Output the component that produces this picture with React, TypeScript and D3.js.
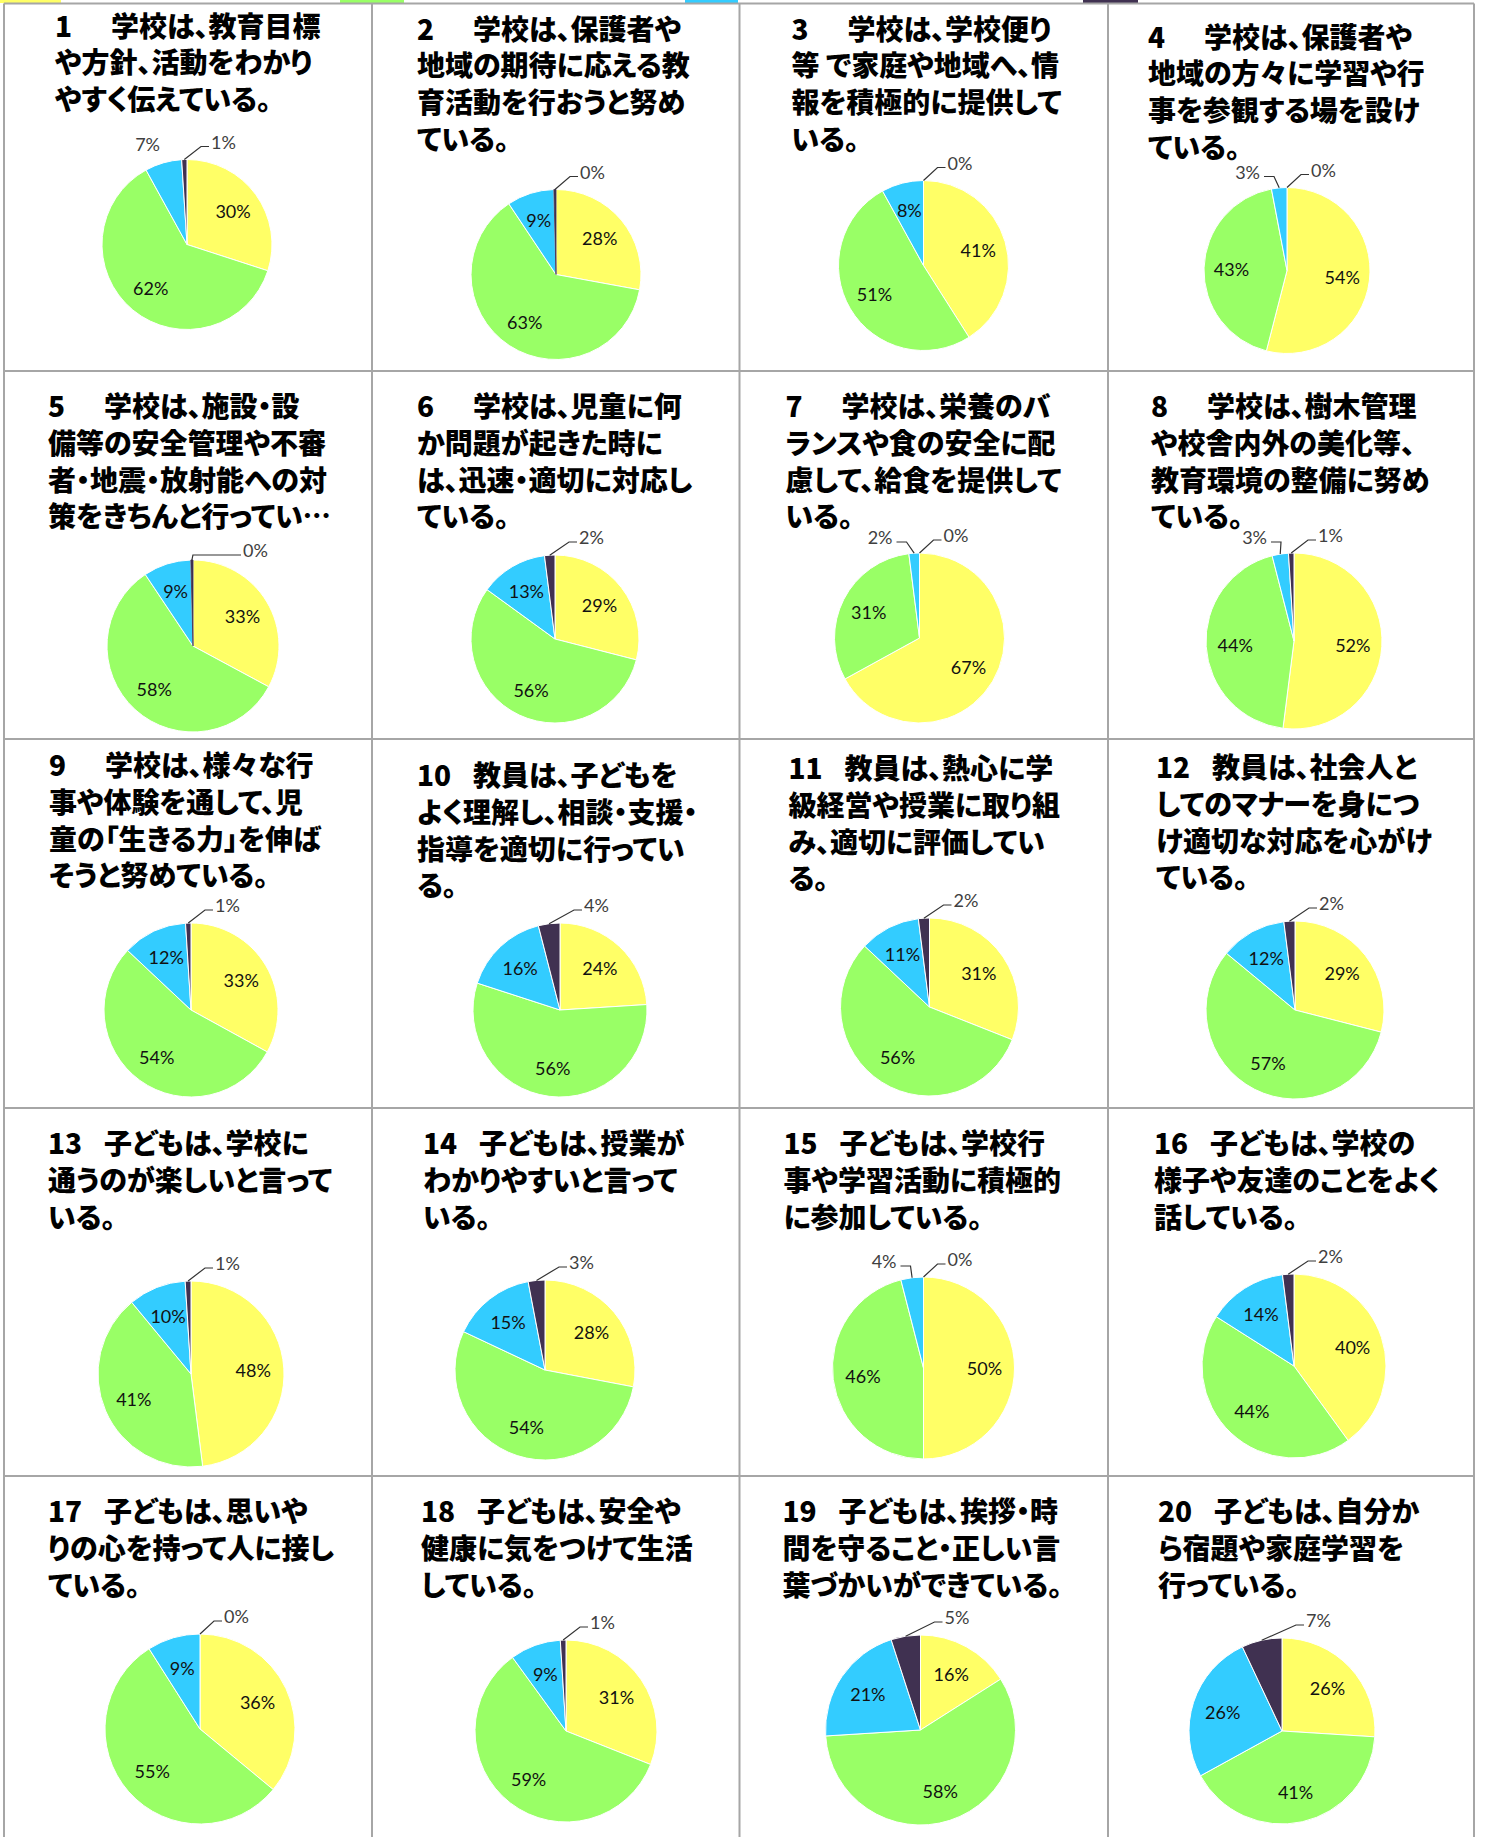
import React from 'react';
import * as d3 from 'd3';

const W = 1491;
const H = 1837;

// ---- data ----
const questionNumbers = [1, 2, 3, 4, 5, 6, 7, 8, 9, 10, 11, 12, 13, 14, 15, 16, 17, 18, 19, 20];

const titleLines: string[][] = [
  ['学校は、教育目標', 'や方針、活動をわかり', 'やすく伝えている。'],
  ['学校は、保護者や', '地域の期待に応える教', '育活動を行おうと努め', 'ている。'],
  ['学校は、学校便り', '等 で家庭や地域へ、情', '報を積極的に提供して', 'いる。'],
  ['学校は、保護者や', '地域の方々に学習や行', '事を参観する場を設け', 'ている。'],
  ['学校は、施設・設', '備等の安全管理や不審', '者・地震・放射能への対', '策をきちんと行ってい…'],
  ['学校は、児童に何', 'か問題が起きた時に', 'は、迅速・適切に対応し', 'ている。'],
  ['学校は、栄養のバ', 'ランスや食の安全に配', '慮して、給食を提供して', 'いる。'],
  ['学校は、樹木管理', 'や校舎内外の美化等、', '教育環境の整備に努め', 'ている。'],
  ['学校は、様々な行', '事や体験を通して、児', '童の「生きる力」を伸ば', 'そうと努めている。'],
  ['教員は、子どもを', 'よく理解し、相談・支援・', '指導を適切に行ってい', 'る。'],
  ['教員は、熱心に学', '級経営や授業に取り組', 'み、適切に評価してい', 'る。'],
  ['教員は、社会人と', 'してのマナーを身につ', 'け適切な対応を心がけ', 'ている。'],
  ['子どもは、学校に', '通うのが楽しいと言って', 'いる。'],
  ['子どもは、授業が', 'わかりやすいと言って', 'いる。'],
  ['子どもは、学校行', '事や学習活動に積極的', 'に参加している。'],
  ['子どもは、学校の', '様子や友達のことをよく', '話している。'],
  ['子どもは、思いや', 'りの心を持って人に接し', 'ている。'],
  ['子どもは、安全や', '健康に気をつけて生活', 'している。'],
  ['子どもは、挨拶・時', '間を守ること・正しい言', '葉づかいができている。'],
  ['子どもは、自分か', 'ら宿題や家庭学習を', '行っている。'],
];

// series (percent), clockwise from 12 o'clock
const seriesA = [30, 28, 41, 54, 33, 29, 67, 52, 33, 24, 31, 29, 48, 28, 50, 40, 36, 31, 16, 26]; // yellow
const seriesB = [62, 63, 51, 43, 58, 56, 31, 44, 54, 56, 56, 57, 41, 54, 46, 44, 55, 59, 58, 41]; // green
const seriesC = [7, 9, 8, 3, 9, 13, 2, 3, 12, 16, 11, 12, 10, 15, 4, 14, 9, 9, 21, 26]; // blue
const seriesD = [1, 0.4, 0, 0, 0.4, 2, 0, 1, 1, 4, 2, 2, 1, 3, 0, 2, 0, 1, 5, 7]; // dark

const seriesColors = ['#FFFF66', '#99FF66', '#33CCFF', '#403151'];

// ---- layout ----
const colEdges = [4, 372, 739.5, 1108, 1474];
const rowEdges = [3.5, 371, 739, 1108, 1476];
const legendSwatchSpans = [[0, 61], [340, 404], [685, 738], [1083, 1138]];

// pie center offset within cell and radius
const pieLayout = [
  [183, 241, 85], [184, 271, 85], [184, 262, 85], [179, 267, 83],
  [189, 275, 86], [183, 268, 84], [180, 267, 85], [186, 270, 88],
  [187, 271, 87], [188, 271, 87], [190, 268, 89], [187, 271, 89],
  [187, 266, 93], [173, 262, 90], [184, 260, 91], [186, 258, 92],
  [196, 253, 95], [194, 255, 91], [181, 254, 95], [174, 255, 93],
];
// title first-line offset (x, y-center) within cell
const titleLayout = [
  [51, 21], [45, 24], [52, 24], [40, 32],
  [44, 34], [45, 34], [46, 34], [43, 34],
  [45, 25], [45, 35], [49, 28], [48, 27],
  [44, 34], [51, 34], [44, 34], [46, 34],
  [44, 34], [49, 34], [43, 34], [50, 34],
];
// extra shift of the outside label of the last slice (dx, dy)
const darkLabelShift: Record<number, [number, number]> = { 4: [26, 8] };

const TITLE_FONT = "'Noto Sans CJK JP', 'Noto Sans CJK SC', sans-serif";
const LABEL_FONT = "Lato, 'Open Sans', sans-serif";
const LABEL_SIZE = 18;

function PieCell({ i }: { i: number }) {
  const col = i % 4;
  const row = Math.floor(i / 4);
  const x0 = colEdges[col];
  const y0 = rowEdges[row];
  const [pdx, pdy, r] = pieLayout[i];
  const cx = x0 + pdx;
  const cy = y0 + pdy;
  const [tdx, tdy] = titleLayout[i];
  const lineH = 36.8;

  const values = [seriesA[i], seriesB[i], seriesC[i], seriesD[i]];
  const pie = d3.pie<number>().sort(null).value((d) => d).startAngle(0).endAngle(2 * Math.PI);
  const arcs = pie(values);
  const arcGen = d3.arc<d3.PieArcDatum<number>>().innerRadius(0).outerRadius(r);

  const labels: React.ReactNode[] = [];
  arcs.forEach((a, k) => {
    const v = values[k];
    const txt = `${Math.round(v)}%`;
    const mid = (a.startAngle + a.endAngle) / 2;
    const ax = cx + r * Math.sin(mid);
    const ay = cy - r * Math.cos(mid);
    if (k < 2 || (k === 2 && v > 7)) {
      const lr = 0.67 * r;
      labels.push(
        <text key={'l' + k} x={cx + lr * Math.sin(mid)} y={cy - lr * Math.cos(mid)}
          textAnchor="middle" dominantBaseline="central" fontFamily={LABEL_FONT}
          fontSize={LABEL_SIZE} fill="#111">{txt}</text>
      );
    } else if (k === 2) {
      const lx = cx - 27;
      const ly = cy - r - 16;
      if (v < 5) {
        labels.push(
          <path key={'ll' + k} d={`M${ax},${ay}L${lx + 14},${ly + 5}L${lx + 4},${ly + 5}`}
            fill="none" stroke="#333" strokeWidth={1.2} />
        );
      }
      labels.push(
        <text key={'l' + k} x={lx} y={ly} textAnchor="end" dominantBaseline="central"
          fontFamily={LABEL_FONT} fontSize={LABEL_SIZE} fill="#404040">{txt}</text>
      );
    } else {
      const sh = darkLabelShift[i];
      const lx = cx + 24 + (sh ? sh[0] : 0);
      const ly = cy - r - 18 + (sh ? sh[1] : 0);
      const ex = sh ? ax + 1 : lx - 10;
      labels.push(
        <path key={'ll' + k} d={`M${ax},${ay}L${ex},${ly + 5}L${lx - 2},${ly + 5}`}
          fill="none" stroke="#333" strokeWidth={1.2} />
      );
      labels.push(
        <text key={'l' + k} x={lx} y={ly} textAnchor="start" dominantBaseline="central"
          fontFamily={LABEL_FONT} fontSize={LABEL_SIZE} fill="#404040">{txt}</text>
      );
    }
  });

  const lines = titleLines[i];
  return (
    <g>
      <g fontFamily={TITLE_FONT} fontWeight={900} fontSize={28} fill="#000"
        style={{ fontFeatureSettings: '"palt"' }}>
        <text x={x0 + tdx} y={y0 + tdy} dominantBaseline="central">{String(questionNumbers[i])}</text>
        {lines.map((ln, j) => (
          <text key={j} x={x0 + tdx + (j === 0 ? 56 : 0)} y={y0 + tdy + j * lineH}
            dominantBaseline="central">{ln}</text>
        ))}
      </g>
      <g>
        {arcs.map((a, k) =>
          values[k] > 0 ? (
            <path key={k} d={arcGen(a) || ''} transform={`translate(${cx},${cy})`}
              fill={seriesColors[k]}
              stroke={k === 3 && values[k] < 1 ? seriesColors[3] : '#fff'}
              strokeWidth={k === 3 && values[k] < 1 ? 0.8 : 1}
              strokeLinejoin="round" />
          ) : null
        )}
      </g>
      {labels}
    </g>
  );
}

export default function App() {
  return (
    <svg width={W} height={H} xmlns="http://www.w3.org/2000/svg"
      style={{ position: 'absolute', left: 0, top: 0, display: 'block', background: '#fff' }}>
      <rect x={0} y={0} width={W} height={H} fill="#fff" />
      {legendSwatchSpans.map(([a, b], k) => (
        <rect key={k} x={a} y={0} width={b - a} height={3} fill={seriesColors[k]} />
      ))}
      {questionNumbers.map((_, i) => <PieCell key={i} i={i} />)}
      <g stroke="#a6a6a6" strokeWidth={2}>
        {colEdges.map((x, k) => (
          <line key={'v' + k} x1={x} x2={x} y1={rowEdges[0]} y2={H} />
        ))}
        {rowEdges.map((y, k) => (
          <line key={'h' + k} x1={colEdges[0]} x2={colEdges[4]} y1={y} y2={y} />
        ))}
      </g>
    </svg>
  );
}
